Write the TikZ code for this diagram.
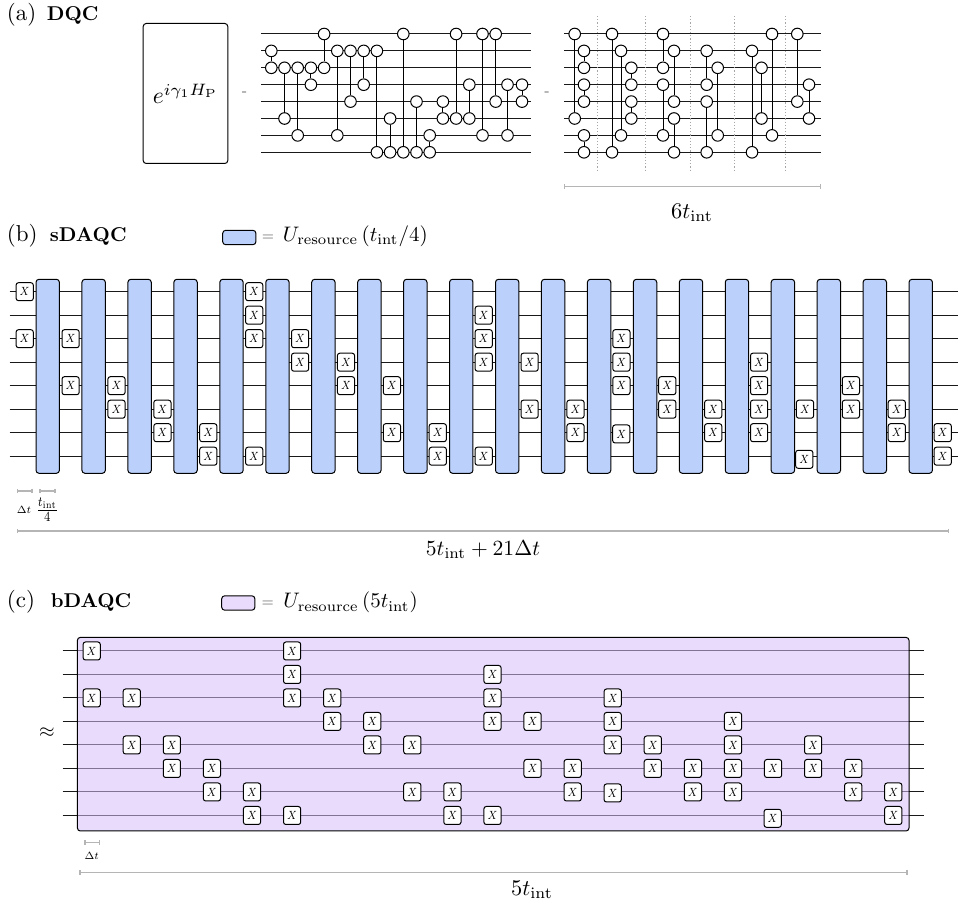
\documentclass[tikz,border=0pt]{standalone}
\usetikzlibrary{arrows.meta}
\definecolor{resblue}{HTML}{BBD1FB}
\definecolor{respurple}{RGB}{213,190,250}
\definecolor{spangray}{HTML}{B5B5B5}

% X gates per time slot, shared by (b) and (c)
\def\gatelist{0/{0,2},1/{2,4},2/{4,5},3/{5,6},4/{6,7},5/{0,1,2,7},6/{2,3},7/{3,4},8/{4,6},9/{6,7},10/{1,2,3,7},11/{3,5},12/{5,6},13/{2,3,4},14/{4,5},15/{5,6},16/{3,4,5,6},17/{5},18/{4,5},19/{5,6},20/{6,7}}
\newcommand{\xlab}{\scalebox{0.7}[0.85]{\(X\)}}

\begin{document}
\begin{tikzpicture}[
  x=0.5pt, y=-0.5pt,
  wire/.style={line width=0.5pt, black!90},
  ctrl/.style={circle, draw, fill=white, line width=0.5pt, minimum size=5.8pt, inner sep=0pt},
  link/.style={line width=0.5pt},
  xgate/.style={rectangle, rounded corners=1.2pt, draw, fill=white, line width=0.5pt, minimum width=8.6pt, minimum height=9pt, inner sep=0pt, font=\scriptsize},
  resbox/.style={rectangle, rounded corners=1.5pt, draw, line width=0.5pt, inner sep=0pt},
  span/.style={draw=spangray, line width=0.7pt, {Bar[width=2.4pt]}-{Bar[width=2.4pt]}},
  panel/.style={anchor=base west, inner sep=0pt, scale=1.15},
  title/.style={anchor=base west, inner sep=0pt, font=\bfseries},
  big/.style={inner sep=0pt, scale=1.12},
  keytext/.style={anchor=base west, inner sep=0pt, scale=1.05},
  small/.style={inner sep=0pt, font=\scriptsize, scale=0.75},
  sep/.style={inner sep=0pt, text=black!60, font=\scriptsize}
]
\useasboundingbox (0,0) rectangle (960,903);

% (a) DQC
\node[panel] (labelA) at (6.5,20.5) {(a)};
\node[title] (titleA) at (46.5,20.5) {DQC};
\node[resbox, minimum width=42.3pt, minimum height=70pt] (expbox) at (185.5,93.5) {};
\node[inner sep=0pt, scale=1.18] (exptext) at (185.5,94) {\(e^{i\gamma_1 H_{\mathrm{P}}}\)};
\node[sep] (dashA) at (244.5,94) {-};
\node[sep] (dashB) at (547,94) {-};

% Wires of the two circuits
\foreach \w in {0,...,7} {
  \coordinate (cl\w) at (261,{34+16.9*\w});
  \coordinate (cr\w) at (531,{34+16.9*\w});
  \coordinate (dl\w) at (564,{34+16.9*\w});
  \coordinate (dr\w) at (821,{34+16.9*\w});
  \draw[wire] (cl\w) -- (cr\w);
  \draw[wire] (dl\w) -- (dr\w);
}

% Left circuit
\foreach \n/\x/\p/\q in {0/271.3/1/2, 1/284.5/2/5, 2/297.7/2/6, 3/310.9/2/3, 4/324.1/0/2,
  5/337.3/1/6, 6/350.5/1/4, 7/363.7/1/3, 8/376.9/1/7, 9/390.1/5/7, 10/403.3/0/7,
  11/416.5/4/7, 12/429.7/6/7, 13/442.9/4/5, 14/456.1/0/5, 15/469.3/3/5, 16/482.5/0/6,
  17/495.7/0/4, 18/507.5/3/6, 19/522/3/4} {
  \node[ctrl] (cp\n) at (\x,{34+16.9*\p}) {};
  \node[ctrl] (cq\n) at (\x,{34+16.9*\q}) {};
  \draw[link] (cp\n) -- (cq\n);
}

% Right circuit
\foreach \n/\x/\p/\q in {0/574.7/0/5, 1/584/1/2, 2/584/3/4, 3/584/6/7, 4/612/0/7, 5/621/1/6,
  6/631.3/2/3, 7/631.3/4/5, 8/663/0/2, 9/663/3/6, 10/674/1/4, 11/674/5/7, 12/706.7/1/3,
  13/706.7/4/7, 14/717.7/2/6, 15/752/1/7, 16/761.5/2/5, 17/772/0/6, 18/797.3/0/4, 19/809/3/5} {
  \node[ctrl] (dp\n) at (\x,{34+16.9*\p}) {};
  \node[ctrl] (dq\n) at (\x,{34+16.9*\q}) {};
  \draw[link] (dp\n) -- (dq\n);
}

% Slot separators
\foreach \x [count=\i] in {597.7,645.7,690.3,734.7,785.7} {
  \coordinate (st\i) at (\x,16);
  \coordinate (sb\i) at (\x,172);
  \draw[gray!70, densely dotted, line width=0.6pt] (st\i) -- (sb\i);
}

\coordinate (spanAl) at (564,186.5);
\coordinate (spanAr) at (821,186.5);
\draw[span] (spanAl) -- (spanAr);
\node[big] (spanAtext) at (692,213) {\(6t_{\mathrm{int}}\)};

% (b) sDAQC
\node[panel] (labelB) at (6.5,241.5) {(b)};
\node[title] (titleB) at (49.5,241.5) {sDAQC};
\node[resbox, fill=resblue, minimum width=16.6pt, minimum height=7.2pt] (keyB) at (239.3,237.5) {};
\node[sep] (eqB) at (268,238) {=};
\node[keytext] (keytextB) at (282.5,241.5) {\(U_{\mathrm{resource}}\,(t_{\mathrm{int}}/4)\)};

\foreach \w in {0,...,7} {
  \coordinate (sl\w) at (9.5,{291.7+23.5*\w});
  \coordinate (sr\w) at (957.5,{291.7+23.5*\w});
  \draw[wire] (sl\w) -- (sr\w);
}
\foreach \i in {0,...,19} {
  \node[resbox, fill=resblue, minimum width=11.7pt, minimum height=97pt] (blk\i) at ({47.7+45.95*\i},376.3) {};
}
\foreach \c/\ws in \gatelist {
  \foreach \w in \ws {
    \node[xgate] (sx\c-\w) at ({24.7+45.9*\c},{291.7+23.5*\w}) {\xlab};
  }
}
% these two sit a little low
\node[xgate] (sx13-6) at (621.3,434) {\xlab};
\node[xgate] (sx17-7) at (804.3,459.3) {\xlab};

\coordinate (dtBl) at (16.7,491);
\coordinate (dtBr) at (32.7,491);
\draw[span] (dtBl) -- (dtBr);
\node[small] (dtBtext) at (24,509.5) {\(\Delta t\)};
\coordinate (tqBl) at (39.3,491);
\coordinate (tqBr) at (55.7,491);
\draw[span] (tqBl) -- (tqBr);
\node[inner sep=0pt, xscale=0.8, yscale=1] (tqBtext) at (47.3,510) {\(\frac{t_{\mathrm{int}}}{4}\)};
\coordinate (spanBl) at (16.7,531);
\coordinate (spanBr) at (949.3,531);
\draw[span] (spanBl) -- (spanBr);
\node[inner sep=0pt, scale=1.08] (spanBtext) at (483,550) {\(5t_{\mathrm{int}}+21\Delta t\)};

% (c) bDAQC
\node[panel] (labelC) at (6.5,608) {(c)};
\node[title] (titleC) at (50.5,608) {bDAQC};
\node[resbox, fill=respurple, fill opacity=0.55, minimum width=16.6pt, minimum height=7.2pt] (keyC) at (238.3,603) {};
\node[sep] (eqC) at (267.7,604) {=};
\node[keytext] (keytextC) at (283,608) {\(U_{\mathrm{resource}}\,(5t_{\mathrm{int}})\)};
\node[inner sep=0pt] (approx) at (47,733) {\(\approx\)};

\foreach \w in {0,...,7} {
  \coordinate (bl\w) at (62.7,{651+23.5*\w});
  \coordinate (br\w) at (924.3,{651+23.5*\w});
  \draw[wire] (bl\w) -- (br\w);
}
\node[resbox, fill=respurple, fill opacity=0.55, minimum width=415.8pt, minimum height=96.8pt] (longblk) at (493.2,734.2) {};
\foreach \c/\ws in \gatelist {
  \foreach \w in \ws {
    \node[xgate] (bx\c-\w) at ({91.7+40.08*\c},{651+23.5*\w}) {\xlab};
  }
}
\node[xgate] (bx13-6) at (612.7,793) {\xlab};
\node[xgate] (bx17-7) at (772.7,818.3) {\xlab};

\coordinate (dtCl) at (84.3,842.5);
\coordinate (dtCr) at (100,842.5);
\draw[span] (dtCl) -- (dtCr);
\node[small] (dtCtext) at (91.7,856) {\(\Delta t\)};
\coordinate (spanCl) at (79.3,872.7);
\coordinate (spanCr) at (907.7,872.7);
\draw[span] (spanCl) -- (spanCr);
\node[big] (spanCtext) at (532,890) {\(5t_{\mathrm{int}}\)};

\end{tikzpicture}
\end{document}
